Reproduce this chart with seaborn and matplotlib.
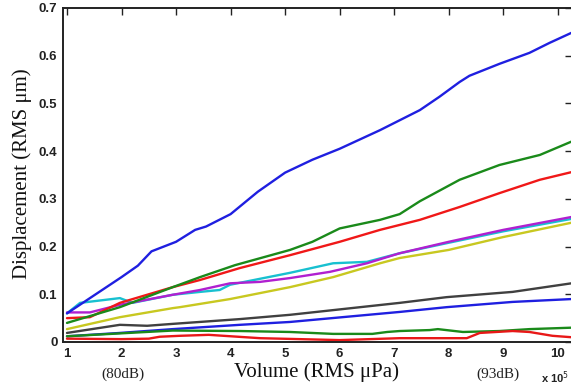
import numpy as np
import pandas as pd
import matplotlib
matplotlib.use("Agg")
import matplotlib.pyplot as plt
import seaborn as sns

# ---- data (x in units of 1e5 RMS uPa, y in RMS um) ----
blue_hi_x = [1, 2, 2.3, 2.55, 3, 3.35, 3.55, 4, 4.5, 5, 5.5, 6, 6.74, 7.47, 7.83, 8.2, 8.38, 8.93, 9.48, 9.85, 10.25]
blue_hi_y = [0.06, 0.136, 0.16, 0.19, 0.21, 0.235, 0.242, 0.268, 0.315, 0.355, 0.382, 0.405, 0.444, 0.486, 0.514, 0.545, 0.558, 0.583, 0.606, 0.627, 0.648]

green_hi_x = [1, 1.97, 2.94, 3.44, 4.08, 5.09, 5.5, 6, 6.74, 7.1, 7.47, 8.2, 8.93, 9.67, 10.25]
green_hi_y = [0.04, 0.073, 0.115, 0.136, 0.161, 0.193, 0.21, 0.238, 0.256, 0.268, 0.295, 0.34, 0.371, 0.392, 0.42]

red_hi_x = [1, 1.42, 1.97, 2.94, 3.44, 4.17, 5.09, 6, 6.74, 7.47, 8.2, 8.93, 9.67, 10.25]
red_hi_y = [0.05, 0.052, 0.082, 0.115, 0.13, 0.155, 0.182, 0.21, 0.235, 0.256, 0.283, 0.312, 0.34, 0.356]

magenta_x = [1, 1.42, 1.97, 2.94, 3.44, 3.99, 4.54, 5.09, 5.82, 6.5, 7.1, 8, 9, 10.25]
magenta_y = [0.062, 0.062, 0.078, 0.099, 0.109, 0.123, 0.126, 0.134, 0.147, 0.165, 0.186, 0.21, 0.235, 0.262]

cyan_x = [1, 1.24, 1.97, 2.2, 2.94, 3.44, 3.8, 3.99, 5.09, 5.88, 6.5, 7.1, 8, 9, 10.25]
cyan_y = [0.06, 0.082, 0.092, 0.082, 0.099, 0.105, 0.109, 0.12, 0.145, 0.165, 0.168, 0.186, 0.208, 0.232, 0.258]

yellow_x = [1, 1.97, 2.94, 3.07, 3.99, 5.09, 5.88, 6.74, 7.1, 8, 9, 10.25]
yellow_y = [0.027, 0.052, 0.071, 0.073, 0.09, 0.115, 0.136, 0.165, 0.176, 0.193, 0.22, 0.25]

gray_x = [1, 1.97, 2.47, 2.94, 4.17, 5.09, 7.1, 7.96, 9.17, 10.25]
gray_y = [0.019, 0.036, 0.034, 0.038, 0.048, 0.057, 0.082, 0.094, 0.105, 0.123]

blue_lo_x = [1, 1.97, 2.94, 4.17, 5.09, 7.1, 7.96, 9.17, 10.25]
blue_lo_y = [0.012, 0.019, 0.027, 0.036, 0.042, 0.063, 0.073, 0.084, 0.09]

green_lo_x = [1, 2.94, 4.17, 5.09, 5.88, 6.6, 6.87, 7.1, 7.65, 7.8, 8.26, 8.93, 9.48, 10.25]
green_lo_y = [0.012, 0.024, 0.023, 0.021, 0.017, 0.017, 0.021, 0.023, 0.025, 0.027, 0.021, 0.023, 0.027, 0.03]

red_lo_x = [1, 2.0, 2.5, 2.7, 3.07, 3.6, 4.54, 6, 7.1, 8.33, 8.57, 9.17, 9.48, 9.9, 10.25]
red_lo_y = [0.007, 0.006, 0.007, 0.011, 0.013, 0.015, 0.008, 0.004, 0.008, 0.008, 0.019, 0.023, 0.021, 0.013, 0.01]

x_ticks = [1, 2, 3, 4, 5, 6, 7, 8, 9, 10]
y_ticks = [0, 0.1, 0.2, 0.3, 0.4, 0.5, 0.6, 0.7]
y_tick_labels = ["0", "0.1", "0.2", "0.3", "0.4", "0.5", "0.6", "0.7"]

series = [
    ("gray", gray_x, gray_y, "#404040"),
    ("blue_lo", blue_lo_x, blue_lo_y, "#1f1fe0"),
    ("green_lo", green_lo_x, green_lo_y, "#1a8a1a"),
    ("red_lo", red_lo_x, red_lo_y, "#e81818"),
    ("yellow", yellow_x, yellow_y, "#c8c820"),
    ("cyan", cyan_x, cyan_y, "#18c0d0"),
    ("magenta", magenta_x, magenta_y, "#b020d0"),
    ("red_hi", red_hi_x, red_hi_y, "#f01818"),
    ("green_hi", green_hi_x, green_hi_y, "#1a8a1a"),
    ("blue_hi", blue_hi_x, blue_hi_y, "#1f1fe0"),
]

frames = []
for name, xs, ys, _ in series:
    frames.append(pd.DataFrame({"x": xs, "y": ys, "series": name}))
df = pd.concat(frames, ignore_index=True)
palette = {name: c for name, _, _, c in series}

sns.set_style("white")

fig = plt.figure(figsize=(5.71, 3.86), dpi=100)
ax = fig.add_axes([63 / 571, 1 - 342 / 386, (572 - 63) / 571, (342 - 8) / 386])

sns.lineplot(data=df, x="x", y="y", hue="series", palette=palette, estimator=None,
             sort=False, legend=False, linewidth=1.7, ax=ax)

ax.set_xlim(0.927, 10.26)
ax.set_ylim(0, 0.7)
ax.set_xticks(x_ticks)
ax.set_xticklabels([str(t) for t in x_ticks])
ax.set_yticks(y_ticks)
ax.set_yticklabels(y_tick_labels)

for sp in ax.spines.values():
    sp.set_visible(True)
    sp.set_color("#222222")
    sp.set_linewidth(1.4)

ax.tick_params(direction="in", length=5, width=1.0, top=True, right=True,
               labelsize=9.5, colors="#222222", pad=4)
for lab in ax.get_xticklabels() + ax.get_yticklabels():
    lab.set_fontfamily("Liberation Sans")
    lab.set_fontweight("bold")

ax.set_xlabel("")
ax.set_ylabel("")
fig.text(316 / 571, 1 - 372 / 386, "Volume (RMS \u03bcPa)",
         ha="center", va="center", family="Liberation Serif", fontsize=15, color="#111111")
fig.text(22 / 571, 1 - 174 / 386, "Displacement (RMS \u03bcm)", rotation=90,
         ha="center", va="center", family="Liberation Serif", fontsize=15, color="#111111")
fig.text(123 / 571, 1 - 374 / 386, "(80dB)", ha="center", va="center",
         family="Liberation Serif", fontsize=11, color="#222222")
fig.text(498 / 571, 1 - 374 / 386, "(93dB)", ha="center", va="center",
         family="Liberation Serif", fontsize=11, color="#222222")
fig.text(541 / 571, 1 - 378 / 386, "x 10$^{5}$", ha="left", va="center",
         family="Liberation Sans", fontsize=8, fontweight="bold", color="#222222")

fig.savefig("out.png", dpi=100)
